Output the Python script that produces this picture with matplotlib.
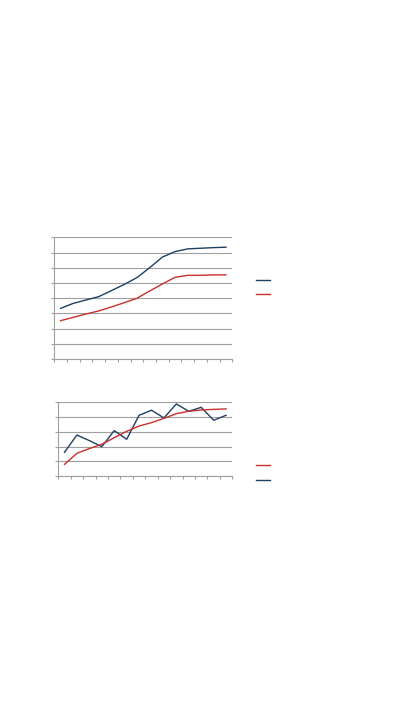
import matplotlib
matplotlib.use("Agg")
import matplotlib.pyplot as plt
import numpy as np

# Top chart: two smooth growth curves, 14 categories
top_blue = [3.33, 3.66, 3.88, 4.10, 4.50, 4.90, 5.35, 6.00, 6.70, 7.06, 7.24, 7.28, 7.32, 7.35]
top_red = [2.52, 2.74, 2.96, 3.16, 3.42, 3.70, 3.99, 4.47, 4.93, 5.37, 5.50, 5.50, 5.53, 5.53]

# Bottom chart: noisy series and its trend
bot_blue = [1.61, 2.78, 2.40, 1.99, 3.08, 2.49, 4.12, 4.46, 3.94, 4.89, 4.39, 4.66, 3.78, 4.12]
bot_red = [0.79, 1.54, 1.86, 2.15, 2.60, 3.03, 3.39, 3.62, 3.91, 4.23, 4.39, 4.48, 4.52, 4.55]

BLUE = '#1f3f63'
RED = '#c8302a'
GRID = '#a0a0a0'

W, H = 394, 709
fig = plt.figure(figsize=(W / 100, H / 100), dpi=100)


def style_axes(ax, n, ymax):
    ax.set_xlim(0, n)
    ax.set_ylim(0, ymax)
    ax.set_xticks(np.arange(n + 1))
    ax.set_yticks(np.arange(ymax + 1))
    ax.tick_params(labelbottom=False, labelleft=False, length=2, width=0.8,
                   color=GRID, direction='out')
    ax.grid(axis='y', color=GRID, linewidth=0.8)
    ax.set_axisbelow(True)
    for s in ('top', 'right'):
        ax.spines[s].set_visible(False)
    for s in ('left', 'bottom'):
        ax.spines[s].set_color(GRID)
        ax.spines[s].set_linewidth(0.8)


# top chart
ax1 = fig.add_axes([54.3 / W, 1 - 359 / H, 178 / W, 121.7 / H])
x1 = np.arange(len(top_blue)) + 0.5
lb1, = ax1.plot(x1, top_blue, color=BLUE, linewidth=1.0)
lr1, = ax1.plot(x1, top_red, color=RED, linewidth=1.0)
style_axes(ax1, len(top_blue), 8)
fig.legend([lb1, lr1], ['', ''], loc='center left', frameon=False,
           bbox_to_anchor=(249 / W, 1 - 288 / H), handlelength=1.0,
           labelspacing=0.05, borderpad=0, fontsize=10)

# bottom chart
ax2 = fig.add_axes([58.3 / W, 1 - 476 / H, 174 / W, 73.7 / H])
x2 = np.arange(len(bot_blue)) + 0.5
lb2, = ax2.plot(x2, bot_blue, color=BLUE, linewidth=1.0)
lr2, = ax2.plot(x2, bot_red, color=RED, linewidth=1.0)
style_axes(ax2, len(bot_blue), 5)
fig.legend([lr2, lb2], ['', ''], loc='center left', frameon=False,
           bbox_to_anchor=(249 / W, 1 - 473.2 / H), handlelength=1.0,
           labelspacing=0.05, borderpad=0, fontsize=10)

fig.savefig('out.png', dpi=100)
